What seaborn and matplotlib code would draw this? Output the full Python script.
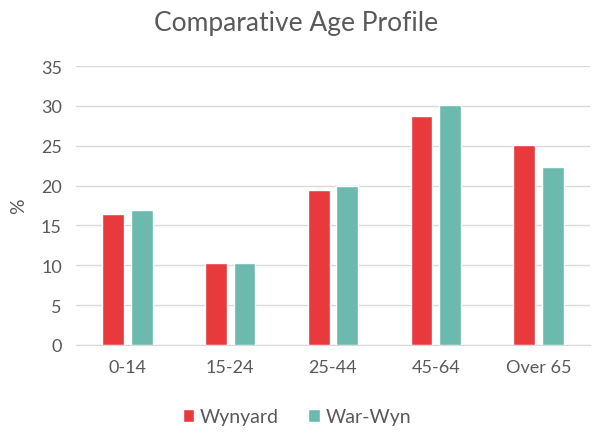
import pandas as pd
import matplotlib
matplotlib.use("Agg")
import matplotlib.pyplot as plt
import seaborn as sns

# Data
age_groups = ['0-14', '15-24', '25-44', '45-64', 'Over 65']
wynyard = [16.4, 10.3, 19.4, 28.7, 25.1]
war_wyn = [17.0, 10.3, 19.9, 30.1, 22.4]
series = ['Wynyard', 'War-Wyn']
colors = ['#E8393C', '#6BBAAD']

df = pd.DataFrame({
    'age': age_groups * 2,
    'pct': wynyard + war_wyn,
    'area': [series[0]] * len(age_groups) + [series[1]] * len(age_groups),
})

sns.set_style("white")
plt.rcParams['font.family'] = ['Lato', 'DejaVu Sans']
text_col = '#595959'

fig = plt.figure(figsize=(5.92, 4.39), dpi=100)
ax = fig.add_axes([0.128, 0.212, 0.869, 0.635])

sns.barplot(data=df, x='age', y='pct', hue='area', order=age_groups,
            hue_order=series, palette=colors, width=0.56, gap=0.24,
            saturation=1, ax=ax)

ax.set_ylim(0, 35)
ax.set_yticks(range(0, 36, 5))
ax.yaxis.grid(True, color='#D9D9D9', linewidth=1)
ax.set_axisbelow(True)
for s in ['top', 'right', 'left']:
    ax.spines[s].set_visible(False)
ax.spines['bottom'].set_color('#D9D9D9')
ax.tick_params(axis='both', length=0, labelsize=13, colors=text_col, pad=10)
ax.set_xlabel('')
ax.set_ylabel('%', fontsize=14, color=text_col, labelpad=10)

fig.suptitle('Comparative Age Profile', x=0.5, y=0.975, fontsize=19, color=text_col)

ax.legend(loc='upper center', bbox_to_anchor=(0.43, -0.165), ncol=2, frameon=False,
          fontsize=14, labelcolor=text_col, handlelength=0.6, handleheight=0.6,
          columnspacing=1.5, handletextpad=0.3)

fig.savefig('out.png', dpi=100)
